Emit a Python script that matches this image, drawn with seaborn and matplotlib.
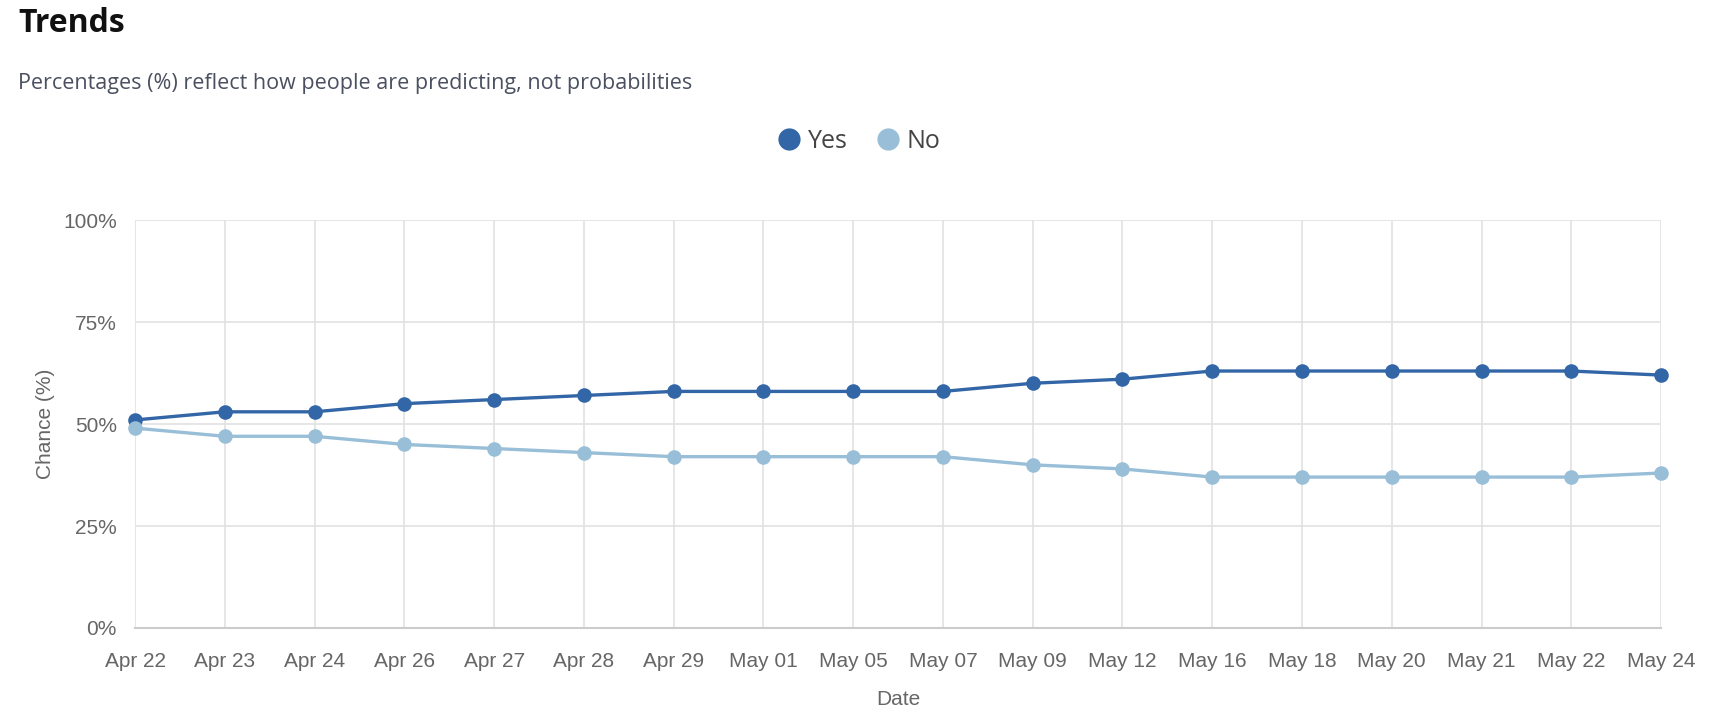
import numpy as np
import pandas as pd
import matplotlib
matplotlib.use("Agg")
import matplotlib.pyplot as plt
from matplotlib.lines import Line2D
from matplotlib.ticker import PercentFormatter
import seaborn as sns

dates = ["Apr 22", "Apr 23", "Apr 24", "Apr 26", "Apr 27", "Apr 28", "Apr 29",
         "May 01", "May 05", "May 07", "May 09", "May 12", "May 16", "May 18",
         "May 20", "May 21", "May 22", "May 24"]
yes_vals = [51, 53, 53, 55, 56, 57, 58, 58, 58, 58, 60, 61, 63, 63, 63, 63, 63, 62]
no_vals = [49, 47, 47, 45, 44, 43, 42, 42, 42, 42, 40, 39, 37, 37, 37, 37, 37, 38]
series_names = ["Yes", "No"]
series_colors = ["#3366a6", "#98bfd7"]

# long-format table for seaborn
df = pd.DataFrame({
    "pos": list(range(len(dates))) * 2,
    "Date": dates * 2,
    "Chance": yes_vals + no_vals,
    "Outcome": ["Yes"] * len(dates) + ["No"] * len(dates),
})

sns.set_style("white")
plt.rcParams["font.family"] = ["Liberation Sans", "DejaVu Sans"]

fig = plt.figure(figsize=(17.22, 7.24), dpi=100)
ax = fig.add_axes([0.0784, 0.1326, 0.8862, 0.5634])

palette = dict(zip(series_names, series_colors))
sns.lineplot(data=df, x="pos", y="Chance", hue="Outcome", hue_order=series_names,
             palette=palette, marker="o", markersize=10.5, markeredgewidth=0,
             linewidth=2.4, legend=False, ax=ax)
for ln in ax.lines:
    ln.set_clip_on(False)
    ln.set_zorder(3)

ax.set_xlim(0, len(dates) - 1)
ax.set_ylim(0, 100)
ax.set_xticks(range(len(dates)))
ax.set_xticklabels(dates)
ax.set_yticks([0, 25, 50, 75, 100])
ax.yaxis.set_major_formatter(PercentFormatter(decimals=0))

ax.grid(True, color="#e2e2e2", linewidth=1.2)
ax.set_axisbelow(True)
for side in ["top", "right", "left"]:
    ax.spines[side].set_visible(False)
ax.spines["bottom"].set_color("#cccccc")
ax.spines["bottom"].set_linewidth(1.5)
ax.tick_params(axis="x", length=9, color="#e2e2e2", width=1.2, pad=8,
               labelsize=15, labelcolor="#666666")
ax.tick_params(axis="y", length=12, color="#e2e2e2", width=1.2, pad=1,
               labelsize=15, labelcolor="#666666")

ax.set_xlabel("Date", fontsize=15, color="#666666", labelpad=14)
ax.set_ylabel("Chance (%)", fontsize=15, color="#666666", labelpad=6)

fig.text(0.0105, 0.967, "Trends", fontsize=23, fontweight="bold", color="#111111",
         family=["Open Sans", "DejaVu Sans"], va="center", ha="left")
fig.text(0.0105, 0.884, "Percentages (%) reflect how people are predicting, not probabilities",
         fontsize=15.5, color="#4a5060", family=["Open Sans", "DejaVu Sans"],
         va="center", ha="left")

handles = [Line2D([0], [0], marker="o", linestyle="", markersize=16,
                  markerfacecolor=c, markeredgewidth=0) for c in series_colors]
fig.legend(handles, series_names, loc="center", bbox_to_anchor=(0.497, 0.805),
           ncol=2, frameon=False, handletextpad=0.05, handlelength=1.4,
           columnspacing=0.9, labelcolor="#444444",
           prop={"family": ["Open Sans", "DejaVu Sans"], "size": 18})

fig.savefig("out.png", dpi=100)
